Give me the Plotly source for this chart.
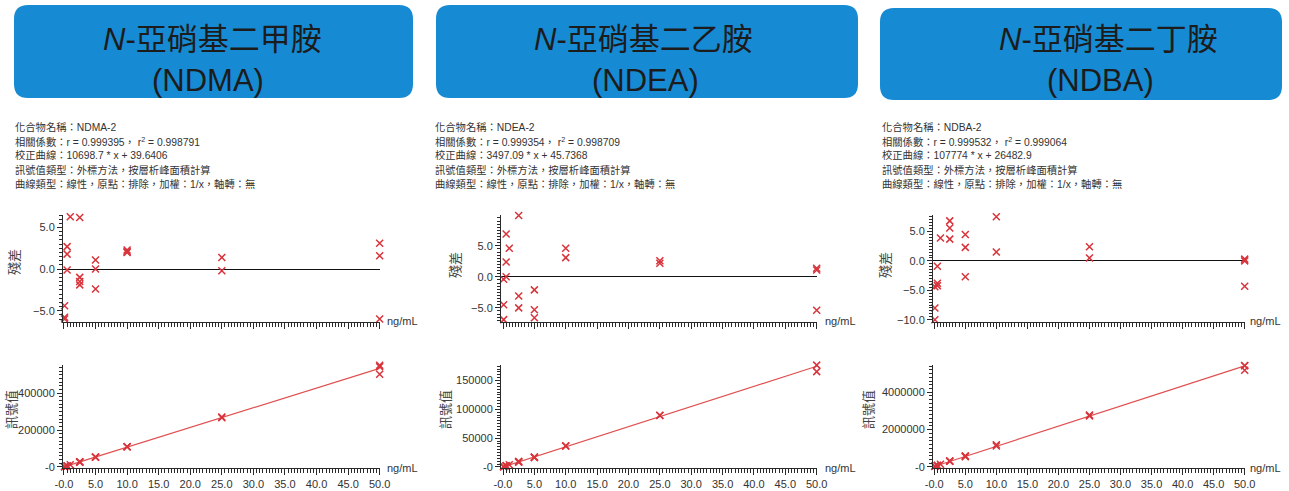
import plotly.graph_objects as go

W, H = 1289, 491

# ---------------- data ----------------
titles_line1 = ["<i>N</i>-亞硝基二甲胺", "<i>N</i>-亞硝基二乙胺", "<i>N</i>-亞硝基二丁胺"]
titles_line2 = ["(NDMA)", "(NDEA)", "(NDBA)"]

info_ndma = ["化合物名稱：NDMA-2",
             "相關係數：r = 0.999395， r<sup>2</sup> = 0.998791",
             "校正曲線：10698.7 * x + 39.6406",
             "訊號值類型：外標方法，按層析峰面積計算",
             "曲線類型：線性，原點：排除，加權：1/x，軸轉：無"]
info_ndea = ["化合物名稱：NDEA-2",
             "相關係數：r = 0.999354， r<sup>2</sup> = 0.998709",
             "校正曲線：3497.09 * x + 45.7368",
             "訊號值類型：外標方法，按層析峰面積計算",
             "曲線類型：線性，原點：排除，加權：1/x，軸轉：無"]
info_ndba = ["化合物名稱：NDBA-2",
             "相關係數：r = 0.999532， r<sup>2</sup> = 0.999064",
             "校正曲線：107774 * x + 26482.9",
             "訊號值類型：外標方法，按層析峰面積計算",
             "曲線類型：線性，原點：排除，加權：1/x，軸轉：無"]

# NDMA
ndma_x = [0.1, 0.1, 0.1, 0.5, 0.5, 0.5, 1.0, 2.5, 2.5, 2.5, 2.5, 5, 5, 5, 10, 10, 10, 25, 25, 50, 50, 50]
ndma_res = [-4.4, -5.8, -6.0, 2.7, 1.8, -0.1, 6.3, 6.2, -1.0, -1.5, -1.9, 1.1, 0.0, -2.4,
            2.3, 2.0, 2.1, 1.4, -0.2, 3.1, 1.6, -6.0]
ndma_sig = [1061, 1045, 1043, 5535, 5486, 5384, 11415, 28447, 26518, 26384, 26277, 54122, 53533, 52248,
            109490, 109168, 109275, 271252, 266972, 551559, 543535, 502877]
ndma_fit_x = [0, 50]
ndma_fit_y = [39.6, 534975]

# NDEA
ndea_x = [0.1, 0.1, 0.1, 0.5, 0.5, 0.5, 1.0, 2.5, 2.5, 2.5, 5, 5, 5, 10, 10, 25, 25, 50, 50, 50]
ndea_res = [-0.4, -4.5, -6.9, 6.9, 2.4, 0.0, 4.6, 9.9, -3.1, -5.0, -2.1, -5.3, -6.6,
            4.6, 3.1, 2.6, 2.2, 1.4, 1.1, -5.4]
ndea_sig = [394, 378, 368, 1918, 1837, 1794, 3706, 9658, 8516, 8349, 17163, 16602, 16374,
            36628, 36102, 89747, 89397, 177349, 176824, 165456]
ndea_fit_x = [0, 50]
ndea_fit_y = [45.7, 174900]

# NDBA
ndba_x = [0.1, 0.1, 0.1, 0.5, 0.5, 0.5, 1.0, 2.5, 2.5, 2.5, 5, 5, 5, 10, 10, 25, 25, 50, 50, 50]
ndba_res = [-8.0, -10.0, -4.4, -0.9, -3.8, -4.2, 3.9, 6.8, 5.6, 3.7, 4.5, 2.3, -2.7,
            7.5, 1.5, 2.4, 0.5, 0.3, 0.0, -4.3]
ndba_sig = [34280, 33534, 35621, 79647, 77316, 76995, 139493, 316040, 312490, 306867,
            590794, 578356, 550088, 1187040, 1120786, 2786133, 2734437, 5431428, 5415183, 5182330]
ndba_fit_x = [0, 50]
ndba_fit_y = [26483, 5415183]

x_dtick = 5
res_dtick = 5
sig_dtick = [200000, 50000, 2000000]

# ---------------- layout geometry (pixels) ----------------
panels = [
    dict(box=(14, 5, 413, 98), title_cx=(212, 208), info_x=13,
         axx=(63, 380), xr=(-0.15, 50.05), res_yr=(-6.3, 6.5), sig_yr=(-3000, 553000),
         sig_minor=20000, res_title=(14, 262), sig_title=(11, 410), unit_x=385),
    dict(box=(436, 5, 858, 98), title_cx=(643, 645), info_x=433,
         axx=(501, 817), xr=(-0.32, 50.05), res_yr=(-7.2, 9.97), sig_yr=(-1000, 177000),
         sig_minor=5000, res_title=(455, 265), sig_title=(445, 410), unit_x=823),
    dict(box=(880, 8, 1282, 100), title_cx=(1108, 1100), info_x=880,
         axx=(933, 1245), xr=(-0.2, 50.05), res_yr=(-10.3, 7.8), sig_yr=(-30000, 5460000),
         sig_minor=200000, res_title=(885, 265), sig_title=(868, 410), unit_x=1248),
]
datasets = [
    (ndma_x, ndma_res, ndma_sig, ndma_fit_x, ndma_fit_y, info_ndma),
    (ndea_x, ndea_res, ndea_sig, ndea_fit_x, ndea_fit_y, info_ndea),
    (ndba_x, ndba_res, ndba_sig, ndba_fit_x, ndba_fit_y, info_ndba),
]

RES_TOP, RES_BOT = 215, 321.5
SIG_TOP, SIG_BOT = 365, 467.5

FONT = "Liberation Sans, Arial, Noto Sans CJK TC, sans-serif"
RED = "#d8343c"
AX = "#2a2a2a"
TXT = "#333333"


def px(x):
    return x / W


def py(y):
    return 1 - y / H


def rounded_path(x0, y0, x1, y1, r):
    rx, ry = r / W, r / H
    X0, X1 = px(x0), px(x1)
    Y0, Y1 = py(y0), py(y1)
    return (f"M {X0+rx},{Y0} L {X1-rx},{Y0} Q {X1},{Y0} {X1},{Y0-ry} "
            f"L {X1},{Y1+ry} Q {X1},{Y1} {X1-rx},{Y1} L {X0+rx},{Y1} "
            f"Q {X0},{Y1} {X0},{Y1+ry} L {X0},{Y0-ry} Q {X0},{Y0} {X0+rx},{Y0} Z")


fig = go.Figure()
shapes = []
annotations = []
layout_axes = {}

for i, (p, d) in enumerate(zip(panels, datasets)):
    xs, res, sig, fx, fy, info = d
    ra = 2 * i + 1
    ca = 2 * i + 2
    xres, yres = f"x{ra}", f"y{ra}"
    xsig, ysig = f"x{ca}", f"y{ca}"

    fig.add_trace(go.Scatter(x=xs, y=res, mode="markers", xaxis=xres, yaxis=yres, cliponaxis=False,
                             marker=dict(symbol="x-thin", size=7, line=dict(color=RED, width=1.5)),
                             hoverinfo="skip"))
    fig.add_trace(go.Scatter(x=fx, y=fy, mode="lines", xaxis=xsig, yaxis=ysig,
                             line=dict(color="#e05050", width=1.2), hoverinfo="skip"))
    fig.add_trace(go.Scatter(x=xs, y=sig, mode="markers", xaxis=xsig, yaxis=ysig, cliponaxis=False,
                             marker=dict(symbol="x-thin", size=7, line=dict(color=RED, width=1.5)),
                             hoverinfo="skip"))

    xdom = [px(p["axx"][0]), px(p["axx"][1])]
    common_x = dict(domain=xdom, range=list(p["xr"]), showline=True, linecolor=AX, linewidth=1,
                    ticks="outside", ticklen=6, tickcolor=AX, tickwidth=1,
                    tickmode="linear", tick0=0, dtick=x_dtick, tickformat=".1f",
                    labelalias={"0.0": "-0.0"},
                    minor=dict(ticks="outside", dtick=0.5, tick0=0, ticklen=4, tickwidth=1,
                               tickcolor=AX, showgrid=False),
                    showgrid=False, zeroline=False, fixedrange=True,
                    tickfont=dict(family=FONT, size=11, color=TXT))
    layout_axes[f"xaxis{ra}"] = dict(common_x, anchor=yres, showticklabels=False)
    layout_axes[f"xaxis{ca}"] = dict(common_x, anchor=ysig, showticklabels=True)

    common_y = dict(showline=True, linecolor=AX, linewidth=1, ticks="outside", ticklen=5,
                    tickcolor=AX, tickwidth=1, showgrid=False, fixedrange=True,
                    tickfont=dict(family=FONT, size=11, color=TXT), tickmode="linear", tick0=0)
    layout_axes[f"yaxis{ra}"] = dict(common_y, anchor=xres, domain=[py(RES_BOT), py(RES_TOP)],
                                     range=list(p["res_yr"]), dtick=res_dtick, tickformat=".1f",
                                     zeroline=True, zerolinecolor="#111", zerolinewidth=1,
                                     minor=dict(ticks="outside", dtick=0.5, tick0=0, ticklen=3,
                                                tickwidth=1, tickcolor=AX, showgrid=False))
    layout_axes[f"yaxis{ca}"] = dict(common_y, anchor=xsig, domain=[py(SIG_BOT), py(SIG_TOP)],
                                     range=list(p["sig_yr"]), dtick=sig_dtick[i], tickformat="d",
                                     labelalias={"0": "-0"}, zeroline=False,
                                     minor=dict(ticks="outside", dtick=p["sig_minor"], tick0=0,
                                                ticklen=3, tickwidth=1, tickcolor=AX, showgrid=False))

    bx0, by0, bx1, by1 = p["box"]
    shapes.append(dict(type="path", xref="paper", yref="paper", path=rounded_path(bx0, by0, bx1, by1, 14),
                       fillcolor="#168bd3", line=dict(width=0), layer="below"))
    annotations.append(dict(x=px(p["title_cx"][0]), y=py(40), xref="paper", yref="paper",
                            text=titles_line1[i], showarrow=False, xanchor="center", yanchor="middle",
                            font=dict(family=FONT, size=31, color="#1c1c1c")))
    annotations.append(dict(x=px(p["title_cx"][1]), y=py(80), xref="paper", yref="paper",
                            text=titles_line2[i], showarrow=False, xanchor="center", yanchor="middle",
                            font=dict(family=FONT, size=31, color="#1c1c1c")))
    for k, line in enumerate(info):
        annotations.append(dict(x=px(p["info_x"]), y=py(127 + 14.2 * k), xref="paper", yref="paper",
                                text=line, showarrow=False, xanchor="left", yanchor="middle",
                                font=dict(family=FONT, size=10.3, color=TXT)))
    annotations.append(dict(x=px(p["res_title"][0]), y=py(p["res_title"][1]), xref="paper", yref="paper",
                            text="殘差", textangle=-90, showarrow=False, xanchor="center", yanchor="middle",
                            font=dict(family=FONT, size=13, color="#444")))
    annotations.append(dict(x=px(p["sig_title"][0]), y=py(p["sig_title"][1]), xref="paper", yref="paper",
                            text="訊號值", textangle=-90, showarrow=False, xanchor="center", yanchor="middle",
                            font=dict(family=FONT, size=13, color="#444")))
    for yy in (RES_BOT - 1, SIG_BOT):
        annotations.append(dict(x=px(p["unit_x"]), y=py(yy), xref="paper", yref="paper",
                                text="ng/mL", showarrow=False, xanchor="left", yanchor="middle",
                                font=dict(family=FONT, size=11, color=TXT)))

fig.update_layout(width=W, height=H, margin=dict(l=0, r=0, t=0, b=0, autoexpand=False),
                  paper_bgcolor="white", plot_bgcolor="white", showlegend=False,
                  shapes=shapes, annotations=annotations, **layout_axes)

fig.write_html("out.html",
               post_script="document.body.style.margin='0';document.body.style.overflow='hidden';")
